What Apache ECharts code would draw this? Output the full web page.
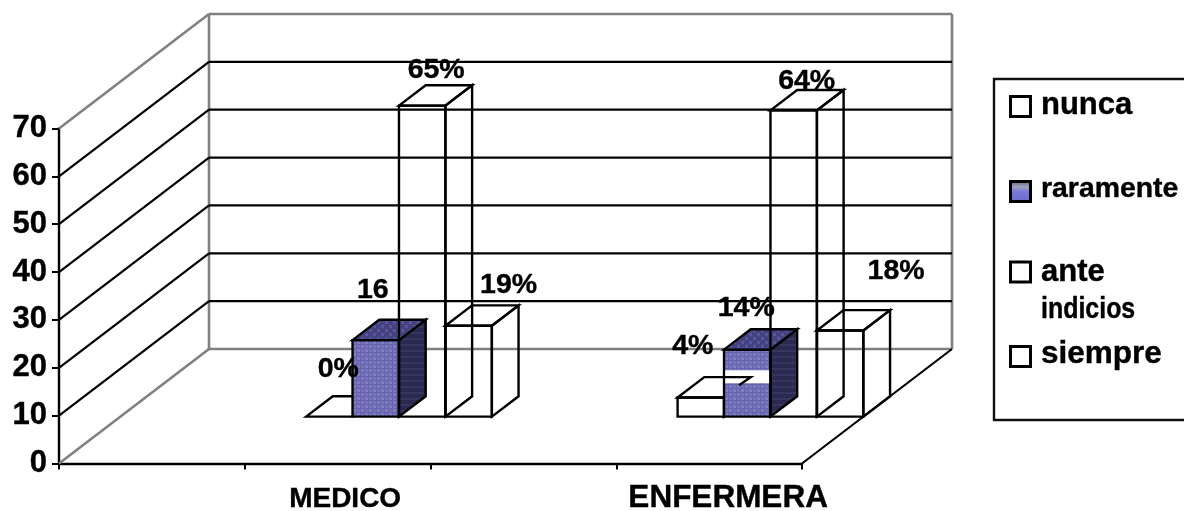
<!DOCTYPE html>
<html>
<head>
<meta charset="utf-8">
<style>html,body{margin:0;padding:0;background:#fff}#c{width:1184px;height:511px}</style>
<script src="https://cdn.jsdelivr.net/npm/echarts@6/dist/echarts.min.js"></script>
</head>
<body>
<div id="c"></div>
<script>
const axisSlots = ['', 'MEDICO', ' ', 'ENFERMERA'];
const categories = ['MEDICO', 'ENFERMERA'];
const seriesNames = ['nunca', 'raramente', 'ante indicios', 'siempre'];
const nunca = [0, 4];
const raramente = [16, 14];
const anteIndicios = [65, 64];
const siempre = [19, 18];
const labelsNunca = ['0%', '4%'];
const labelsRaramente = ['16', '14%'];
const labelsAnte = ['65%', '64%'];
const labelsSiempre = ['19%', '18%'];
const yTicks = [0, 10, 20, 30, 40, 50, 60, 70];

const allValues = [nunca, raramente, anteIndicios, siempre];
const allLabels = [labelsNunca, labelsRaramente, labelsAnte, labelsSiempre];

// layout of the oblique projection
const DX = 150, DY = 114.5, BAR_DEPTH_AT = 0.409, BAR_THICK = 0.178;
const LABEL_OFFSETS = [
  [[9, -48], [-8, -51]],
  [[-3, -50], [-1, -42]],
  [[14, -35], [13, -29]],
  [[40, -41], [56, -59]]
];
const FONT = '"Liberation Sans", Arial, sans-serif';

function pattern(w, h, draw) {
  const cv = document.createElement('canvas');
  cv.width = w; cv.height = h;
  draw(cv.getContext('2d'));
  return { image: cv, repeat: 'repeat' };
}
const frontFill = pattern(8, 8, g => {
  g.fillStyle = '#6664ae'; g.fillRect(0, 0, 8, 8);
  g.fillStyle = '#7f7dc0'; g.fillRect(1, 1, 3, 3); g.fillRect(5, 5, 3, 3);
  g.fillStyle = '#7472b8'; g.fillRect(5, 1, 3, 3); g.fillRect(1, 5, 3, 3);
});
const topFill = pattern(8, 8, g => {
  g.fillStyle = '#45437f'; g.fillRect(0, 0, 8, 8);
  g.fillStyle = '#56549a'; g.fillRect(1, 1, 3, 3); g.fillRect(5, 5, 3, 3);
});
const sideFill = pattern(8, 6, g => {
  g.fillStyle = '#2a2950'; g.fillRect(0, 0, 8, 6);
  g.fillStyle = '#36355f'; g.fillRect(0, 2, 8, 2);
});

const LW = 2.4;
const LINE = { stroke: '#000', lineWidth: LW, lineJoin: 'miter' };
const GRAY = '#808080';

function poly(points, fill) {
  return { type: 'polygon', shape: { points }, style: Object.assign({ fill: fill || 'none' }, LINE) };
}
function line(a, b, color) {
  return { type: 'line', shape: { x1: a[0], y1: a[1], x2: b[0], y2: b[1] }, style: { stroke: color || '#000', lineWidth: color === GRAY ? 2.6 : 2.2, fill: 'none' } };
}

function renderWalls(params, api) {
  const v = api.value(0);
  const cs = params.coordSys;
  const y = api.coord([0, v])[1];
  const x0 = cs.x, x1 = cs.x + cs.width;
  const color = (v === 0 || v === 70) ? GRAY : '#000';
  const children = [
    line([x0 + DX, y - DY], [x1 + DX, y - DY], color),
    line([x0, y], [x0 + DX, y - DY], color)
  ];
  if (v === 0) {
    const yTop = api.coord([0, 70])[1];
    children.push(line([x0 + DX, y - DY], [x0 + DX, yTop - DY], GRAY));
    children.push(line([x1 + DX, y - DY], [x1 + DX, yTop - DY], GRAY));
    children.push(line([x1, y], [x1 + DX, y - DY], '#000'));
  }
  return { type: 'group', children };
}

function makeRender(s) {
  return function (params, api) {
    const idx = params.dataIndex;
    const value = api.value(1);
    const slot = api.value(0);
    const base = api.coord([slot, 0]);
    const top = api.coord([slot, value]);
    const w = api.size([1, 0])[0] * 0.25;
    const ox = BAR_DEPTH_AT * DX, oy = BAR_DEPTH_AT * DY;
    const tx = BAR_THICK * DX, ty = BAR_THICK * DY;
    const l = base[0] + (s - 2) * w + ox, r = l + w;
    const b = base[1] - oy, t = top[1] - oy;
    const solid = s === 1;
    const children = [];
    if (value > 0) {
      children.push(poly([[l, b], [r, b], [r, t], [l, t]], solid ? frontFill : 'none'));
      children.push(poly([[r, b], [r + tx, b - ty], [r + tx, t - ty], [r, t]], solid ? sideFill : 'none'));
    }
    children.push(poly([[l, t], [l + tx, t - ty], [r + tx, t - ty], [r, t]], solid ? topFill : 'none'));
    if (solid && idx === 1) {
      // pale band on the ENFERMERA bar, where the nunca box shows through
      const scale = (base[1] - api.coord([slot, 10])[1]) / 10;
      const nTop = b - nunca[1] * scale;
      const bandT = nTop - ty - 7, bandB = nTop - ty + 6;
      children.push({ type: 'rect', shape: { x: l + 1.2, y: bandT, width: w - 2.4, height: bandB - bandT }, style: { fill: '#fff' } });
      children.push({ type: 'polyline', shape: { points: [[l, nTop - ty], [l + tx, nTop - ty], [l + tx * 0.56, nTop - ty * 0.6]] }, style: { stroke: '#000', lineWidth: LW, fill: 'none' } });
    }
    const off = LABEL_OFFSETS[s][idx];
    children.push({
      type: 'text',
      style: {
        x: l + w / 2 + off[0], y: t + off[1], text: allLabels[s][idx],
        align: 'center', verticalAlign: 'middle',
        font: 'bold 28.5px ' + FONT, fill: '#000', stroke: '#000', lineWidth: 0.4
      },
      z2: 20
    });
    return { type: 'group', children };
  };
}

const series = [{
  type: 'custom', name: 'walls', renderItem: renderWalls, clip: false, silent: true,
  data: yTicks.map(v => [v]), encode: { y: 0 }
}];
seriesNames.forEach((name, s) => {
  series.push({
    type: 'custom', name, renderItem: makeRender(s), clip: false, silent: true,
    data: categories.map((c, i) => [c, allValues[s][i]]), encode: { x: 0, y: 1 }
  });
});

function legendSwatch(y, fill) {
  return { type: 'rect', shape: { x: 1010.5, y, width: 20, height: 20 }, style: { fill, stroke: '#000', lineWidth: 3 } };
}
function legendText(text, y, size, sx) {
  return {
    type: 'text', x: 1041, y, scaleX: sx || 1,
    style: { x: 0, y: 0, text, font: 'bold ' + size + 'px ' + FONT, fill: '#000', stroke: '#000', lineWidth: 0.4, verticalAlign: 'middle', align: 'left' }
  };
}
const swatchBlue = {
  type: 'linear', x: 0, y: 0, x2: 0, y2: 1,
  colorStops: [{ offset: 0, color: '#5a5a80' }, { offset: 0.3, color: '#a0a0b8' }, { offset: 0.5, color: '#7a78d8' }, { offset: 1, color: '#6a68c8' }]
};

const chart = echarts.init(document.getElementById('c'), null, { renderer: 'canvas' });
chart.setOption({
  animation: false,
  backgroundColor: '#fff',
  grid: { left: 59, right: 382, top: 128.5, bottom: 47.5, containLabel: false, outerBoundsMode: 'none' },
  xAxis: {
    type: 'category', data: axisSlots, boundaryGap: true,
    axisLine: { lineStyle: { color: '#000', width: 2.4 } },
    axisTick: { show: true, length: 6, interval: 0, lineStyle: { color: '#000', width: 2 } },
    axisLabel: {
      interval: 0, margin: 19, color: '#000',
      formatter: v => v === 'MEDICO' ? '{m|' + v + '}' : v === 'ENFERMERA' ? '{e|' + v + '}' : '',
      rich: {
        m: { fontFamily: FONT, fontWeight: 'bold', fontSize: 28, color: '#000', padding: [3, 0, 0, 15], textBorderColor: '#000', textBorderWidth: 0.4 },
        e: { fontFamily: FONT, fontWeight: 'bold', fontSize: 31.5, color: '#000', padding: [0, 0, 0, 38], textBorderColor: '#000', textBorderWidth: 0.4 }
      }
    },
    splitLine: { show: false }
  },
  yAxis: {
    type: 'value', min: 0, max: 70, interval: 10,
    axisLine: { show: true, lineStyle: { color: '#000', width: 2.4 } },
    axisTick: { show: true, length: 7, lineStyle: { color: '#000', width: 2 } },
    axisLabel: { margin: 12, color: '#000', fontWeight: 'bold', fontSize: 31, fontFamily: FONT, padding: [3, 0, 0, 0], textBorderColor: '#000', textBorderWidth: 0.4 },
    splitLine: { show: false }
  },
  series,
  graphic: [
    { type: 'polyline', shape: { points: [[1186, 79], [994, 79], [994, 420], [1186, 420]] }, style: { stroke: '#111', lineWidth: 2.4, fill: 'none' } },
    legendSwatch(96.5, '#fff'), legendText('nunca', 105, 31),
    legendSwatch(181.5, swatchBlue), legendText('raramente', 189.5, 28.4),
    legendSwatch(262, '#fff'), legendText('ante', 272.5, 31), legendText('indicios', 310, 29, 0.86),
    legendSwatch(346.5, '#fff'), legendText('siempre', 354.5, 31.5)
  ]
});
</script>
</body>
</html>
